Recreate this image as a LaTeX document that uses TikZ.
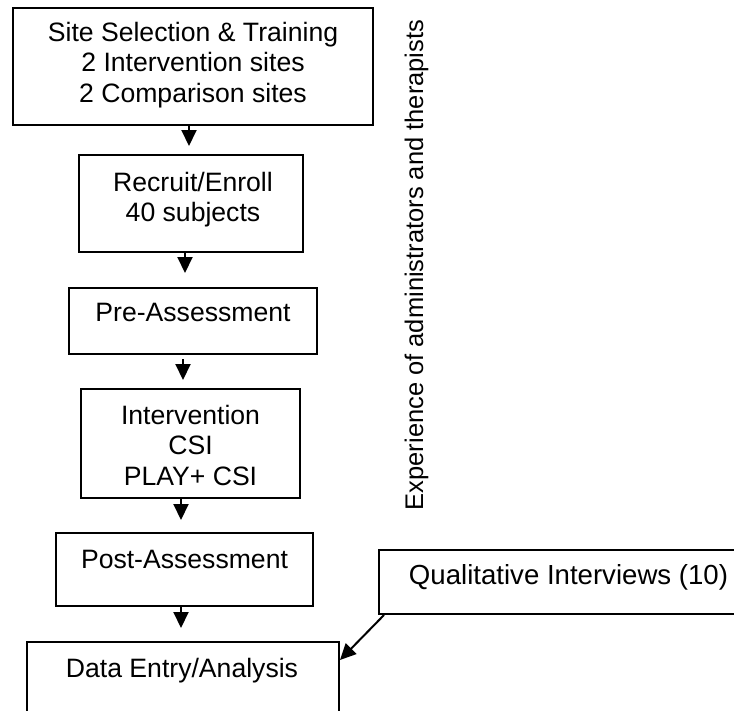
\documentclass[tikz,border=0pt]{standalone}
\usepackage{fontspec}
\setmainfont{Liberation Sans}
\usetikzlibrary{arrows.meta,calc}
\begin{document}
\begin{tikzpicture}[x=1pt,y=-1pt,
  box/.style={draw=black,line width=2pt,rectangle,inner sep=0pt,anchor=north west},
  txt/.style={anchor=north,inner sep=0pt,align=center,font=\fontsize{26.6}{30.5}\selectfont},
  arr/.style={line width=2pt,-{Triangle[length=16pt,width=15pt]}}]
\useasboundingbox (0,0) rectangle (734,710);
% boxes
\node[box,minimum width=360pt,minimum height=117pt] (b1) at (12,7) {};
\node[box,minimum width=224pt,minimum height=97pt] (b2) at (78,154) {};
\node[box,minimum width=248pt,minimum height=66pt] (b3) at (68,287) {};
\node[box,minimum width=219pt,minimum height=109pt] (b4) at (80,388) {};
\node[box,minimum width=257pt,minimum height=73pt] (b5) at (55,532) {};
\node[box,minimum width=312pt,minimum height=90pt] (b6) at (26,641) {};
\node[box,minimum width=382pt,minimum height=64pt] (b7) at (378,549) {};
% texts
\node[txt] (t1) at ($(b1.north)+(0,15)$) {Site Selection \& Training\\2 Intervention sites\\2 Comparison sites};
\node[txt] (t2) at ($(b2.north)+(2,18)$) {Recruit/Enroll\\40 subjects};
\node[txt] (t3) at ($(b3.north)+(0,16)$) {Pre-Assessment};
\node[txt] (t4) at ($(b4.north)+(0,17)$) {Intervention\\CSI\\PLAY+ CSI};
\node[txt] (t5) at ($(b5.north)+(0,18)$) {Post-Assessment};
\node[txt] (t6) at ($(b6.north west)+(156,17)$) {Data Entry/Analysis};
\node[txt,font=\fontsize{27.6}{31}\selectfont] (t7) at ($(b7.north west)+(190.5,15.5)$) {Qualitative Interviews (10)};
\node[rotate=90,anchor=base,inner sep=0pt,font=\fontsize{25.5}{30}\selectfont] (side) at (423,265) {Experience of administrators and therapists};
% arrows
\draw[arr,shorten >=8pt] ([xshift=-4pt]b1.south) -- ([xshift=-4pt]b1.south |- b2.north);
\draw[arr,shorten >=14pt] ([xshift=-6pt]b2.south) -- ([xshift=-6pt]b2.south |- b3.north);
\draw[arr,shorten >=8pt,shorten <=4pt] ([xshift=-10pt]b3.south) -- ([xshift=-10pt]b3.south |- b4.north);
\draw[arr,shorten >=12pt] ([xshift=-9.5pt]b4.south) -- ([xshift=-9.5pt]b4.south |- b5.north);
\draw[arr,shorten >=13pt] ([xshift=-3.5pt]b5.south) -- ([xshift=-3.5pt]b5.south |- b6.north);
\coordinate (q) at ($(b6.north east)+(0,19)$);
\draw[arr] ($(b7.south west)+(6,0)$) -- (q);
\end{tikzpicture}
\end{document}
